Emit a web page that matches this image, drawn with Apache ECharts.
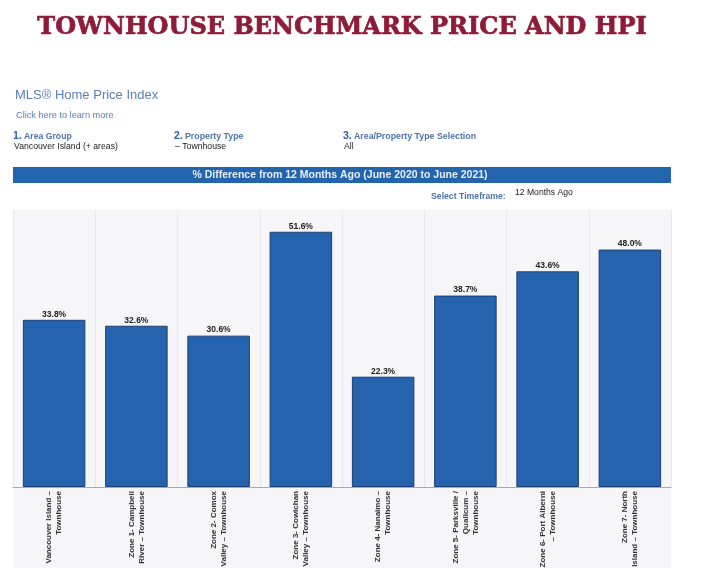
<!DOCTYPE html>
<html><head><meta charset="utf-8">
<style>html,body{margin:0;padding:0;background:#fff}#c{width:708px;height:581px}</style>
<script src="https://cdn.jsdelivr.net/npm/echarts@6/dist/echarts.min.js"></script>
</head><body><div id="c"></div>
<script>
const categories = [
  "Vancouver Island –\nTownhouse",
  "Zone 1- Campbell\nRiver – Townhouse",
  "Zone 2- Comox\nValley – Townhouse",
  "Zone 3- Cowichan\nValley – Townhouse",
  "Zone 4- Nanaimo –\nTownhouse",
  "Zone 5- Parksville /\nQualicum –\nTownhouse",
  "Zone 6- Port Alberni\n– Townhouse",
  "Zone 7- North\nIsland – Townhouse"
];
const values = [33.8, 32.6, 30.6, 51.6, 22.3, 38.7, 43.6, 48.0];
const chartTitle = "TOWNHOUSE BENCHMARK PRICE AND HPI";
const bannerText = "% Difference from 12 Months Ago (June 2020 to June 2021)";

const sans = '"Liberation Sans", Arial, sans-serif';
const blue = '#4a74ad';
function txt(x, y, text, size, fill, weight, extra) {
  return {type:'text', x, y, z:10, style:Object.assign({text, fontSize:size, fill, fontFamily:sans, fontWeight:weight||'normal', verticalAlign:'middle'}, extra||{})};
}
const chart = echarts.init(document.getElementById('c'), null, {renderer:'canvas'});
chart.setOption({
  animation:false,
  backgroundColor:'#fff',
  grid:{left:13, right:37, top:210, bottom:94, backgroundColor:'#f6f6f9', show:true, borderWidth:0},
  xAxis:{
    type:'category', data:categories,
    axisLine:{lineStyle:{color:'#a8a8ae', width:1}},
    axisTick:{show:false},
    splitLine:{show:true, lineStyle:{color:'#e8e8ec', width:1}},
    axisLabel:{interval:0, rotate:90, margin:4, fontSize:8, fontWeight:'bold', color:'#333', fontFamily:sans, lineHeight:10, align:'right'}
  },
  yAxis:{type:'value', min:0, max:56, show:false, splitLine:{show:false}},
  series:[{
    type:'bar', data:values, barWidth:'76%',
    itemStyle:{color:'#2563ae', borderColor:'#1c3f73', borderWidth:1},
    label:{show:true, position:'top', distance:1, formatter:p=>p.value.toFixed(1)+'%', fontSize:8.5, fontWeight:'bold', color:'#222', fontFamily:sans}
  }],
  graphic:[
    {type:'rect', z:-1, silent:true, shape:{x:13, y:487, width:658, height:81}, style:{fill:'#f6f6f8'}},
    {type:'rect', z:1, shape:{x:13, y:167, width:658, height:16}, style:{fill:'#2264ae'}},
    {type:'text', x:342, y:28, z:10, style:{text:chartTitle, fontSize:24, fontWeight:'bold', fill:'#8e1b3a', stroke:'#8e1b3a', lineWidth:0.7, fontFamily:'"DejaVu Serif", serif', align:'center', verticalAlign:'middle'}},
    txt(15, 95, 'MLS® Home Price Index', 13, '#5a7fb5'),
    txt(16, 115, 'Click here to learn more', 9.2, '#5a7fb5'),
    txt(13, 136, '1.', 10.5, '#2f62a8', 'bold'),
    txt(24, 136.5, 'Area Group', 8.7, blue, 'bold'),
    txt(14, 147, 'Vancouver Island (+ areas)', 8.7, '#222'),
    txt(174, 136, '2.', 10.5, '#2f62a8', 'bold'),
    txt(185, 136.5, 'Property Type', 8.8, blue, 'bold'),
    txt(175, 147, '– Townhouse', 8.7, '#222'),
    txt(343, 136, '3.', 10.5, '#2f62a8', 'bold'),
    txt(354, 136.5, 'Area/Property Type Selection', 8.8, blue, 'bold'),
    txt(344, 147, 'All', 8.7, '#222'),
    {type:'text', x:340, y:175.5, z:10, style:{text:bannerText, fontSize:10.5, fontWeight:'bold', fill:'#e8eef8', fontFamily:sans, align:'center', verticalAlign:'middle'}},
    txt(431, 197, 'Select Timeframe:', 8.7, blue, 'bold'),
    txt(515, 193, '12 Months Ago', 8.6, '#222')
  ]
});
</script></body></html>
